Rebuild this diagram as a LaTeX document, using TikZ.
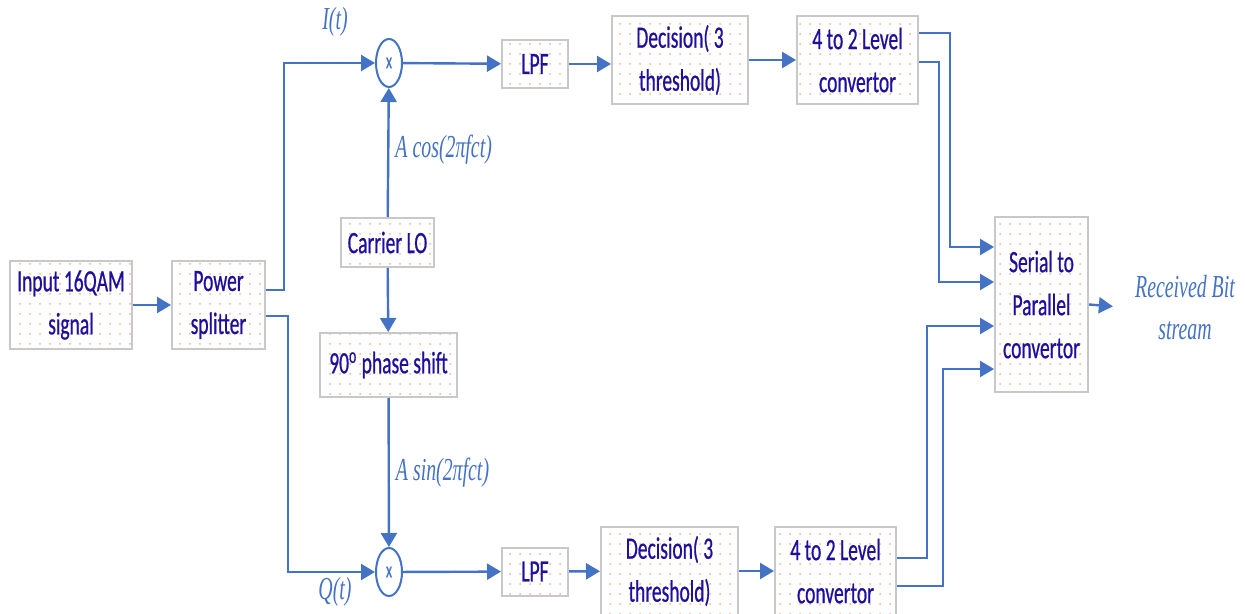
\documentclass[tikz,border=0pt]{standalone}
\usepackage{fontspec}
\setmainfont{Carlito}[FakeStretch=0.63,FakeBold=0.6]
\newfontfamily\lblfont{Liberation Serif}[FakeStretch=0.62]
\usepackage{xcolor}
\usepackage{tikz}
\usetikzlibrary{arrows.meta,positioning,shapes.geometric,patterns.meta}
\definecolor{cLine}{HTML}{4472C4}
\definecolor{cInk}{HTML}{1E0F9C}
\definecolor{cEdge}{HTML}{C8C8C8}
\definecolor{cDot}{HTML}{F2B490}
\tikzset{
  blk/.style={draw=cEdge,line width=1pt,preaction={fill=white},
    pattern={Dots[distance=5pt,radius=0.5pt]},pattern color=cDot,
    align=center,text=cInk,font=\fontsize{15.5}{21.5}\selectfont,inner sep=2pt},
  mult/.style={ellipse,draw=cLine,line width=1pt,fill=white,minimum width=13pt,
    minimum height=24pt,inner sep=0pt,text=cLine,font=\fontsize{11}{11}\selectfont},
  arr/.style={-{Triangle[length=7pt,width=8pt]},line width=1.2pt,color=cLine},
  lbl/.style={font=\lblfont\itshape\fontsize{16}{21}\selectfont,text=cLine,align=center,inner sep=1pt},
}
\begin{document}
\begin{tikzpicture}[x=0.5pt,y=-0.5pt]
  \useasboundingbox (0,0) rectangle (1245,614);
  % front end
  \node[blk,minimum width=61pt,minimum height=44pt] (in16) at (71,305) {Input 16QAM\\signal};
  \node[blk,minimum width=46.5pt,minimum height=44pt] (split) at (218.5,305) {Power\\splitter};
  % mixers and local oscillator
  \node[mult] (mulI) at (389,63) {x};
  \node[mult] (mulQ) at (389,572) {x};
  \node[blk,minimum width=46.5pt,minimum height=24.5pt] (carrier) at (387.5,242.5) {Carrier LO};
  \node[blk,minimum width=68.5pt,minimum height=32pt] (phase) at (388.5,365) {90\textsuperscript{o} phase shift};
  % I branch
  \node[blk,minimum width=33pt,minimum height=24pt] (lpfI) at (535,64) {LPF};
  \node[blk,minimum width=68pt,minimum height=44pt] (decI) at (680,60) {Decision( 3\\threshold)};
  \node[blk,minimum width=60.5pt,minimum height=44pt] (lvlI) at (857.5,60) {4 to 2 Level\\convertor};
  % Q branch
  \node[blk,minimum width=33pt,minimum height=24pt] (lpfQ) at (535,571.5) {LPF};
  \node[blk,minimum width=68.5pt,minimum height=44pt] (decQ) at (669.5,571) {Decision( 3\\threshold)};
  \node[blk,minimum width=60.5pt,minimum height=44pt] (lvlQ) at (835.5,571) {4 to 2 Level\\convertor};
  % back end
  \node[blk,minimum width=46.5pt,minimum height=87.5pt] (s2p) at (1041.5,304.5) {Serial to\\Parallel\\convertor};
  \node[lbl] (rx) at (1185,308) {Received Bit\\stream};
  % signal labels
  \node[lbl] (it) at (335,22) {I(t)};
  \node[lbl] (qt) at (335,592) {Q(t)};

  \draw[arr] (in16) -- (split);
  \draw[arr] ([yshift=7.5pt]split.east) -- ++(9pt,0) |- (mulI.west);
  \draw[arr] ([yshift=-5.5pt]split.east) -- ++(11pt,0) |- (mulQ.west);
  \draw[arr] (carrier) -- node[lbl,right=2pt,pos=0.52]{A cos(2πfct)} (mulI);
  \draw[arr] (carrier) -- (phase);
  \draw[arr] (phase) -- node[lbl,right=2pt,pos=0.5]{A sin(2πfct)} (mulQ);
  \draw[arr] (mulI) -- (lpfI); \draw[arr] (lpfI.east) -- (lpfI.east -| decI.west); \draw[arr] (decI) -- (lvlI);
  \draw[arr] (mulQ) -- (lpfQ); \draw[arr] (lpfQ) -- (decQ); \draw[arr] (decQ) -- (lvlQ);
  \draw[arr] ([yshift=13.5pt]lvlI.east) -- ++(15.5pt,0) |- ([yshift=28.75pt]s2p.west);
  \draw[arr] ([yshift=-1pt]lvlI.east) -- ++(10pt,0) |- ([yshift=11.25pt]s2p.west);
  \draw[arr] ([yshift=6.5pt]lvlQ.east) -- ++(15pt,0) |- ([yshift=-10.75pt]s2p.west);
  \draw[arr] ([yshift=-7.5pt]lvlQ.east) -- ++(23pt,0) |- ([yshift=-32.25pt]s2p.west);
  \draw[arr,shorten >=10pt] (s2p.east) -- (rx.west);
\end{tikzpicture}
\end{document}
